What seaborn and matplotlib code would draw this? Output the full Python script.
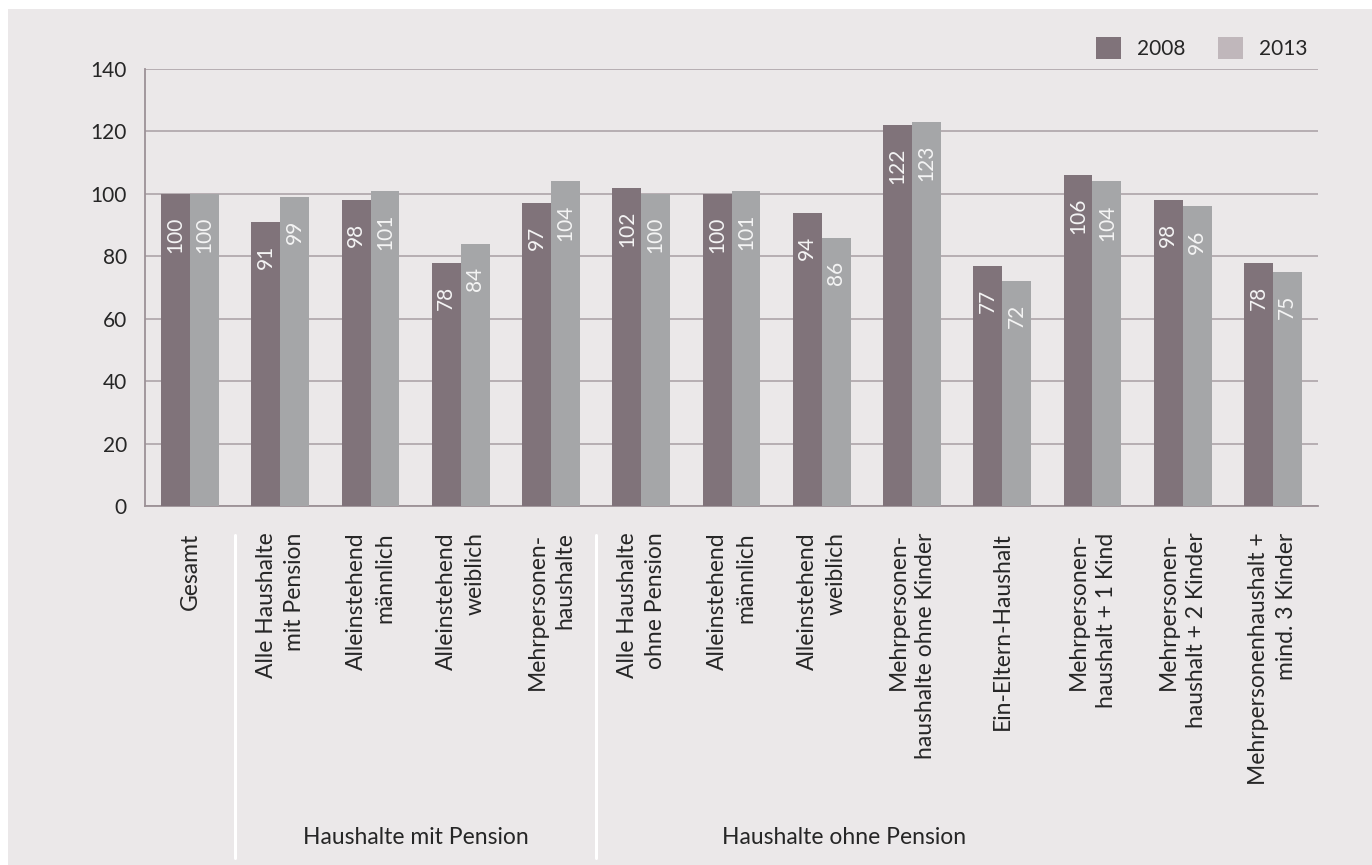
import numpy as np
import pandas as pd
import seaborn as sns
import matplotlib.pyplot as plt
from matplotlib.patches import Patch, Rectangle
import matplotlib.transforms as mtransforms

# Kategorien (x-Achse) und Werte je Jahr
kategorien = [
    "Gesamt",
    "Alle Haushalte\nmit Pension",
    "Alleinstehend\nmännlich",
    "Alleinstehend\nweiblich",
    "Mehrpersonen-\nhaushalte",
    "Alle Haushalte\nohne Pension",
    "Alleinstehend\nmännlich",
    "Alleinstehend\nweiblich",
    "Mehrpersonen-\nhaushalte ohne Kinder",
    "Ein-Eltern-Haushalt",
    "Mehrpersonen-\nhaushalt + 1 Kind",
    "Mehrpersonen-\nhaushalt + 2 Kinder",
    "Mehrpersonenhaushalt +\nmind. 3 Kinder",
]
werte_2008 = [100, 91, 98, 78, 97, 102, 100, 94, 122, 77, 106, 98, 78]
werte_2013 = [100, 99, 101, 84, 104, 100, 101, 86, 123, 72, 104, 96, 75]
jahre = ["2008", "2013"]
gruppen = ["Haushalte mit Pension", "Haushalte ohne Pension"]

bg = "#ebe8e9"
grid_col = "#a89ea3"
col_2008 = "#80737a"
col_2013 = "#a5a6a8"
leg_2013 = "#c0b7bb"

sns.set_style("white", {"axes.facecolor": bg})
plt.rcParams["font.family"] = ["Lato", "DejaVu Sans"]
plt.rcParams["font.size"] = 15

df = pd.DataFrame({
    "pos": list(range(len(kategorien))) * 2,
    "wert": werte_2008 + werte_2013,
    "jahr": [jahre[0]] * len(kategorien) + [jahre[1]] * len(kategorien),
})

fig = plt.figure(figsize=(13.72, 8.65), dpi=100, facecolor="white")
# grauer Hintergrund mit schmalem weissen Rand oben/links
fig.patches.append(Rectangle((8 / 1372, 0), 1, 1 - 9 / 865, transform=fig.transFigure,
                             facecolor=bg, edgecolor="none", zorder=-10))
ax = fig.add_axes([145 / 1372, 1 - 506 / 865, (1318 - 145) / 1372, (506 - 69) / 865])
ax.set_facecolor(bg)

sns.barplot(data=df, x="pos", y="wert", hue="jahr", palette=[col_2008, col_2013],
            width=0.64, saturation=1, linewidth=0, legend=False, ax=ax, zorder=3)

ax.set_ylim(0, 140)
ax.set_xlim(-0.5, 12.5)
ax.set_yticks(range(0, 141, 20))
ax.yaxis.grid(True, color=grid_col, linewidth=1.1, zorder=0)
ax.set_axisbelow(True)
ax.set_xlabel("")
ax.set_ylabel("")
for s in ["top", "right"]:
    ax.spines[s].set_visible(False)
for s in ["left", "bottom"]:
    ax.spines[s].set_color("#9c9196")
    ax.spines[s].set_linewidth(1.3)

ax.set_xticks(range(len(kategorien)))
ax.set_xticklabels(kategorien, rotation=90, va="top", ha="center",
                   multialignment="right", linespacing=1.4)
ax.tick_params(axis="x", length=0, pad=19, labelsize=16.5)
ax.tick_params(axis="y", length=0, pad=13, labelsize=15)

# Werte in die Balken schreiben
for cont in ax.containers:
    for bar in cont:
        h = bar.get_height()
        ax.annotate(f"{h:.0f}", (bar.get_x() + bar.get_width() / 2, h),
                    xytext=(0, -16.5), textcoords="offset points",
                    rotation=90, ha="center", va="top", color="#f4f4f4",
                    fontsize=15, zorder=4)

# Gruppentrenner und Gruppenbeschriftung
trans = mtransforms.blended_transform_factory(ax.transData, ax.transAxes)
for xs in [0.5, 4.5]:
    ax.plot([xs, xs], [-0.066, -0.805], color="white", linewidth=2.2,
            transform=trans, clip_on=False)
ax.text(2.5, -0.758, gruppen[0], transform=trans, ha="center", va="center", fontsize=16.5)
ax.text(7.25, -0.758, gruppen[1], transform=trans, ha="center", va="center", fontsize=16.5)

handles = [Patch(facecolor=col_2008, edgecolor="none"), Patch(facecolor=leg_2013, edgecolor="none")]
fig.legend(handles, jahre, loc="center right", bbox_to_anchor=(1318 / 1372, 1 - 48 / 865),
           ncol=2, frameon=False, borderpad=0, handlelength=1.2, handleheight=1.2,
           handletextpad=0.75, columnspacing=1.6, fontsize=15)

fig.savefig("out.png", dpi=100, facecolor=fig.get_facecolor())
